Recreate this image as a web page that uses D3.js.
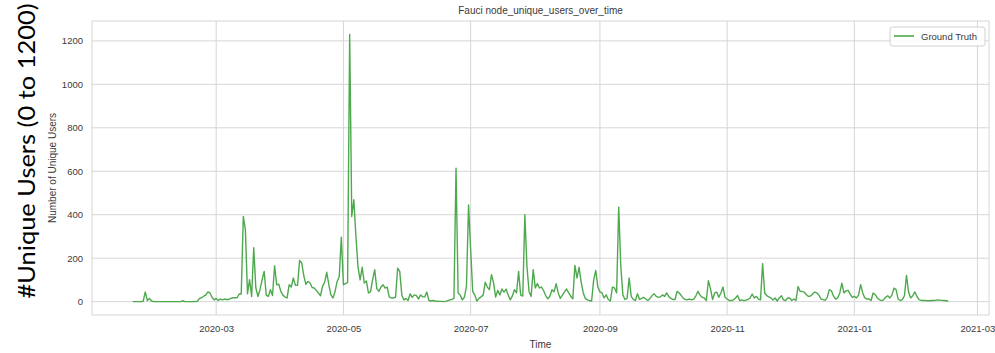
<!DOCTYPE html>
<html>
<head>
<meta charset="utf-8">
<script src="https://cdn.jsdelivr.net/npm/d3@7"></script>
<style>
  html, body { margin: 0; padding: 0; background: #fff; }
  svg { display: block; }
  text { font-family: "Liberation Sans", Arial, sans-serif; }
</style>
</head>
<body>
<svg id="chart" width="995" height="353"></svg>
<script>
// ---- data ----
const chartTitle = "Fauci node_unique_users_over_time";
const seriesName = "Ground Truth";
const startDate = "2020-01-21"; // first daily observation
const uniqueUsers = [
  0,0,0,0,0,2,45,5,15,3,
  0,0,0,0,0,0,0,0,0,0,
  0,0,0,0,4,0,0,0,0,0,
  0,2,15,18,25,30,45,40,20,8,
  15,5,12,8,12,10,10,15,18,18,
  18,35,35,392,330,36,101,24,248,64,
  24,55,100,139,30,24,55,28,165,78,
  80,47,30,21,17,78,67,109,75,75,
  190,178,120,80,93,86,65,63,52,40,
  27,70,89,135,78,31,17,47,93,116,
  297,78,83,88,1230,392,469,300,160,100,
  158,86,95,40,45,101,147,60,47,67,
  78,62,67,21,17,17,20,154,139,31,
  8,15,5,36,20,31,28,12,31,22,
  22,44,5,3,5,3,2,1,1,0,
  1,5,8,10,15,614,40,30,8,20,
  70,445,240,47,30,3,15,22,30,89,
  67,55,124,86,21,52,31,58,44,58,
  31,8,25,55,40,139,30,26,400,162,
  47,24,147,63,83,63,67,50,28,13,
  25,55,45,83,40,15,30,45,58,40,
  25,13,167,109,158,90,40,15,8,5,
  3,100,144,67,45,40,17,31,10,3,
  67,63,40,435,162,31,10,15,109,24,
  10,5,36,10,15,20,12,5,15,28,
  36,24,20,22,31,24,40,24,15,10,
  10,47,40,28,15,10,9,12,8,12,
  27,47,30,20,17,5,96,60,10,40,
  44,20,40,67,20,12,5,5,8,17,
  28,5,8,5,7,10,17,35,17,24,
  12,8,175,40,28,22,17,8,17,3,
  17,27,8,5,17,17,5,12,5,70,
  47,47,43,32,24,26,35,44,40,30,
  12,9,6,20,55,50,25,12,17,40,
  85,40,50,52,35,20,24,17,30,78,
  40,17,12,12,5,40,32,17,9,5,
  8,20,27,17,30,62,55,12,5,9,
  27,121,43,17,27,45,24,9,6,5,
  5,4,4,5,5,6,8,7,6,5,
  4,3
];
const yTickValues = [0, 200, 400, 600, 800, 1000, 1200];
const xTickDates = ["2020-03-01","2020-05-01","2020-07-01","2020-09-01","2020-11-01","2021-01-01","2021-03-01"];
const xLabel = "Time";
const yLabel = "Number of Unique Users";
const sideLabel = "#Unique Users (0 to 1200)";

// ---- layout ----
const svg = d3.select("#chart");
const plot = { left: 92, right: 989, top: 21, bottom: 315 };
const gridColor = "#d6d6d6";
const lineColor = "#4ea94e";
const textColor = "#3a3a3a";

const parse = d3.utcParse("%Y-%m-%d");
const t0 = parse(startDate);
const data = uniqueUsers.map((v, i) => ({ date: d3.utcDay.offset(t0, i), value: v }));

const xExt = d3.extent(data, d => d.date);
const span = xExt[1] - xExt[0];
const x = d3.scaleUtc()
  .domain([new Date(+xExt[0] - span * 0.05), new Date(+xExt[1] + span * 0.05)])
  .range([plot.left, plot.right]);

const yMax = d3.max(uniqueUsers), yMin = 0;
const yPad = (yMax - yMin) * 0.05;
const y = d3.scaleLinear()
  .domain([yMin - yPad, yMax + yPad])
  .range([plot.bottom, plot.top]);

// background
svg.append("rect").attr("x", 0).attr("y", 0).attr("width", 995).attr("height", 353).attr("fill", "#fff");

// grid
const xTicks = xTickDates.map(parse);
const grid = svg.append("g");
grid.selectAll("line.gx").data(xTicks).join("line")
  .attr("x1", d => x(d)).attr("x2", d => x(d))
  .attr("y1", plot.top).attr("y2", plot.bottom)
  .attr("stroke", gridColor).attr("stroke-width", 1);
grid.selectAll("line.gy").data(yTickValues).join("line")
  .attr("x1", plot.left).attr("x2", plot.right)
  .attr("y1", d => y(d)).attr("y2", d => y(d))
  .attr("stroke", gridColor).attr("stroke-width", 1);

// frame
svg.append("rect")
  .attr("x", plot.left).attr("y", plot.top)
  .attr("width", plot.right - plot.left).attr("height", plot.bottom - plot.top)
  .attr("fill", "none").attr("stroke", gridColor).attr("stroke-width", 1);

// axes (tick labels via d3 axes)
const xAxis = d3.axisBottom(x).tickValues(xTicks).tickFormat(d3.utcFormat("%Y-%m")).tickSize(0).tickPadding(10);
const gx = svg.append("g").attr("transform", `translate(0,${plot.bottom})`).call(xAxis);
gx.select(".domain").remove();
gx.selectAll("text").attr("fill", textColor).style("font-size", "9.5px").style("font-family", "'Liberation Sans', Arial, sans-serif");

const yAxis = d3.axisLeft(y).tickValues(yTickValues).tickFormat(d3.format("d")).tickSize(0).tickPadding(9);
const gy = svg.append("g").attr("transform", `translate(${plot.left},0)`).call(yAxis);
gy.select(".domain").remove();
gy.selectAll("text").attr("fill", textColor).style("font-size", "9.5px").style("font-family", "'Liberation Sans', Arial, sans-serif");

// line
const line = d3.line().x(d => x(d.date)).y(d => y(d.value));
svg.append("path").datum(data)
  .attr("d", line)
  .attr("fill", "none")
  .attr("stroke", lineColor)
  .attr("stroke-width", 1.4)
  .attr("stroke-linejoin", "round");

// title and labels
svg.append("text").attr("x", (plot.left + plot.right) / 2).attr("y", 14)
  .attr("text-anchor", "middle").attr("fill", textColor).style("font-size", "10px")
  .text(chartTitle);
svg.append("text").attr("x", (plot.left + plot.right) / 2).attr("y", 348)
  .attr("text-anchor", "middle").attr("fill", textColor).style("font-size", "10px")
  .text(xLabel);
svg.append("text")
  .attr("transform", `translate(56,${(plot.top + plot.bottom) / 2}) rotate(-90)`)
  .attr("text-anchor", "middle").attr("fill", textColor).style("font-size", "10px")
  .text(yLabel);

// legend
const lg = svg.append("g");
lg.append("rect").attr("x", 890).attr("y", 27).attr("width", 95).attr("height", 19)
  .attr("rx", 2.5).attr("fill", "#fff").attr("fill-opacity", 0.85)
  .attr("stroke", "#d0d0d0").attr("stroke-width", 1);
lg.append("line").attr("x1", 894).attr("x2", 914).attr("y1", 36).attr("y2", 36)
  .attr("stroke", lineColor).attr("stroke-width", 1.6);
lg.append("text").attr("x", 921).attr("y", 39.5).attr("fill", textColor)
  .style("font-size", "9.5px").text(seriesName);

// side label
svg.append("text")
  .attr("transform", "translate(35,151) rotate(-90)")
  .attr("text-anchor", "middle").attr("fill", "#000")
  .style("font-family", "Lato, 'Open Sans', sans-serif")
  .style("font-size", "24px")
  .attr("textLength", 295).attr("lengthAdjust", "spacingAndGlyphs")
  .text(sideLabel);
</script>
</body>
</html>
